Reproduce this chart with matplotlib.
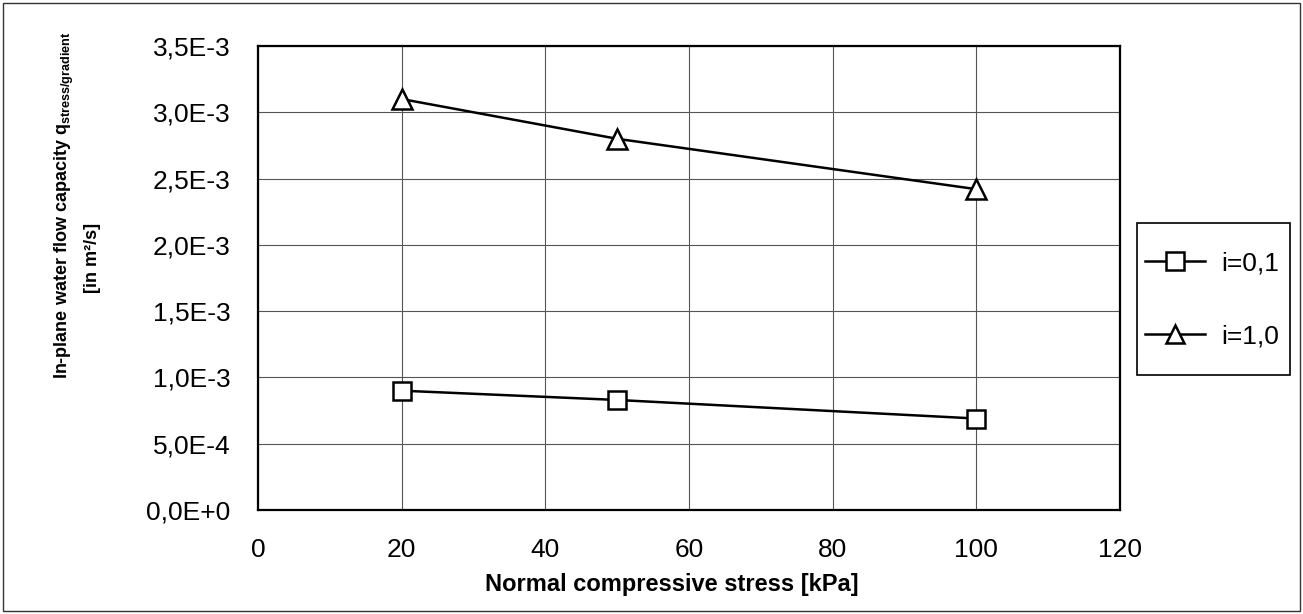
import matplotlib
matplotlib.use("Agg")
import matplotlib.pyplot as plt
from matplotlib.patches import Rectangle

plt.rcParams['font.family'] = ['Liberation Sans', 'DejaVu Sans']
plt.rcParams['mathtext.fontset'] = 'custom'
plt.rcParams['mathtext.rm'] = 'Liberation Sans'
plt.rcParams['mathtext.bf'] = 'Liberation Sans:bold'

stress = [20, 50, 100]
q_i01 = [0.90e-3, 0.83e-3, 0.69e-3]
q_i10 = [3.10e-3, 2.80e-3, 2.42e-3]
labels = ['i=0,1', 'i=1,0']
xticks = [0, 20, 40, 60, 80, 100, 120]
yticks = [0, 0.5e-3, 1.0e-3, 1.5e-3, 2.0e-3, 2.5e-3, 3.0e-3, 3.5e-3]
ytick_labels = ['0,0E+0', '5,0E-4', '1,0E-3', '1,5E-3', '2,0E-3', '2,5E-3', '3,0E-3', '3,5E-3']

W, H = 1303, 614
fig = plt.figure(figsize=(W/100, H/100), dpi=100)
ax = fig.add_axes([258/W, 1-510/H, (1120-258)/W, (510-46)/H])

ax.plot(stress, q_i01, color='black', lw=1.8, marker='s', ms=13,
        mfc='white', mec='black', mew=1.8, label=labels[0])
ax.plot(stress, q_i10, color='black', lw=1.8, marker='^', ms=14,
        mfc='white', mec='black', mew=1.8, label=labels[1])

ax.set_xlim(0, 120)
ax.set_ylim(0, 3.5e-3)
ax.set_xticks(xticks)
ax.set_xticklabels([str(v) for v in xticks], fontsize=19)
ax.set_yticks(yticks)
ax.set_yticklabels(ytick_labels, fontsize=19)
ax.tick_params(length=0)
ax.tick_params(axis='y', pad=20)
ax.tick_params(axis='x', pad=20)
ax.grid(True, color='#555555', lw=0.8)
ax.set_axisbelow(True)
for s in ax.spines.values():
    s.set_linewidth(1.6)
    s.set_color('black')

fig.text(672/W, 1-584/H, 'Normal compressive stress [kPa]', fontsize=17,
         fontweight='bold', ha='center', va='center')
fig.text(64/W, 1-205/H, r'In-plane water flow capacity q$_{\mathbf{stress/gradient}}$',
         rotation=90, fontsize=13, fontweight='bold', ha='center', va='center')
fig.text(93/W, 1-258/H, '[in m²/s]', rotation=90, fontsize=13,
         fontweight='bold', ha='center', va='center')

leg = fig.legend(loc='center', bbox_to_anchor=(1212/W, 1-300/H), fontsize=19,
                 frameon=False, labelspacing=1.85, handlelength=2.3,
                 handletextpad=0.6, borderpad=0, borderaxespad=0, markerscale=0.95)

fig.patches.append(Rectangle((1137/W, 1-375/H), (1290-1137)/W, (375-223)/H,
                             transform=fig.transFigure, fill=False,
                             edgecolor='black', lw=1.2))
fig.patches.append(Rectangle((3/W, 3/H), (W-6)/W, (H-6)/H, transform=fig.transFigure,
                             fill=False, edgecolor='#333333', lw=1.0))

fig.savefig('out.png', dpi=100)
